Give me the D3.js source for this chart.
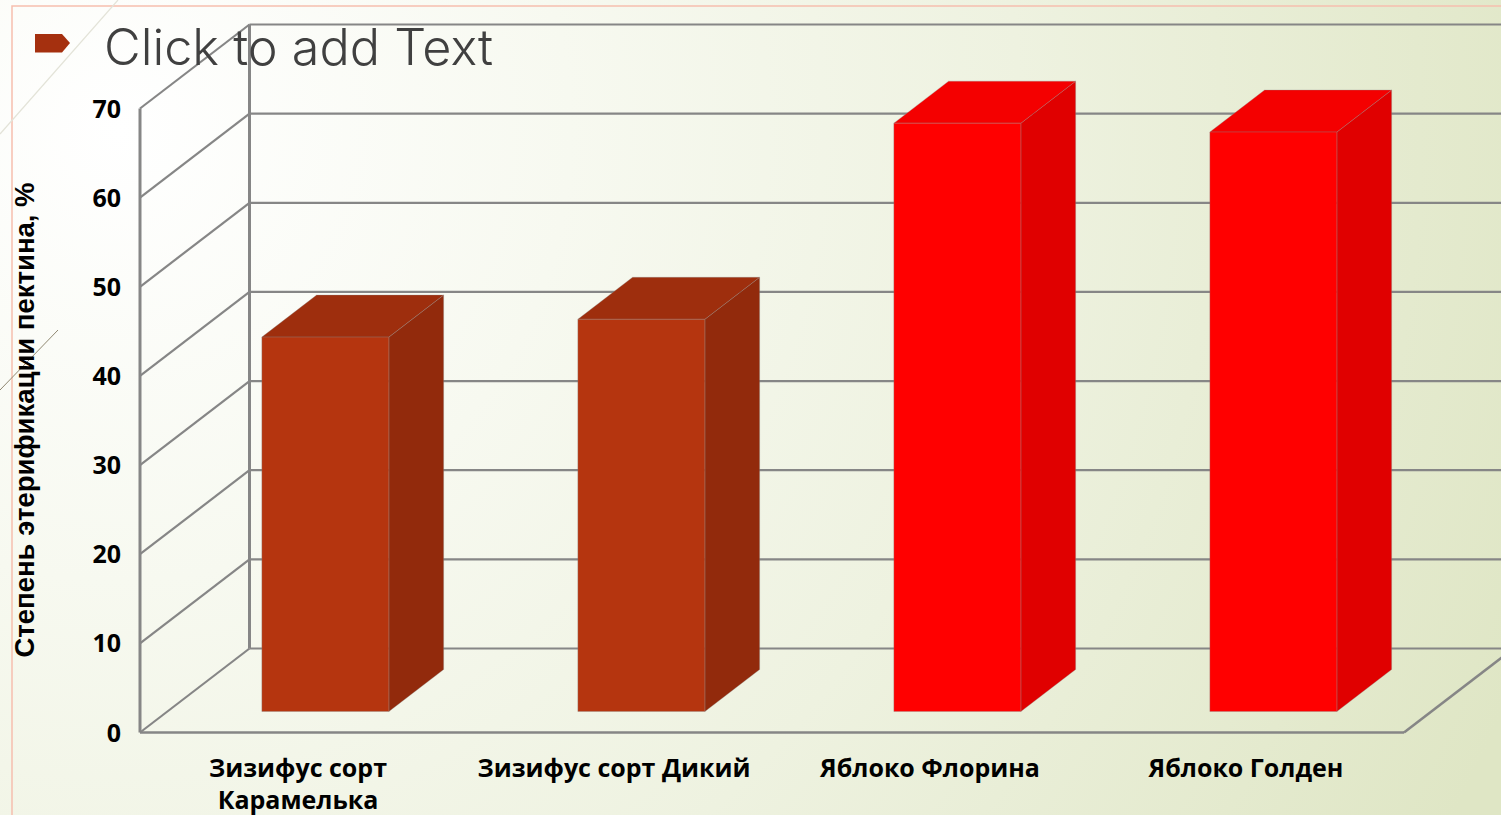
<!DOCTYPE html>
<html lang="ru">
<head>
<meta charset="utf-8">
<script src="https://cdnjs.cloudflare.com/ajax/libs/d3/7.9.0/d3.min.js"></script>
<style>
html,body{margin:0;padding:0;background:#fff;overflow:hidden}
svg{display:block}
</style>
</head>
<body>
<svg id="chart" width="1501" height="815"></svg>
<script>
const categories = ["Зизифус сорт Карамелька", "Зизифус сорт Дикий", "Яблоко Флорина", "Яблоко Голден"];
const values = [42, 44, 66, 65];
const frontColors = ["#b5350f", "#b5350f", "#ff0000", "#ff0000"];
const sideColors = ["#922a0c", "#922a0c", "#e00000", "#e00000"];
const topColors = ["#9e2e0d", "#9e2e0d", "#f40000", "#f40000"];
const yTicks = [0, 10, 20, 30, 40, 50, 60, 70];
const yTitle = "Степень этерификации пектина, %";
const placeholder = "Click to add Text";
const xLines = [["Зизифус сорт", "Карамелька"], ["Зизифус сорт Дикий"], ["Яблоко Флорина"], ["Яблоко Голден"]];

const W = 1501, H = 815;
const svg = d3.select("#chart");
const depth = {dx: 109.5, dy: -84};
const barDepth = 0.5, barOffset = 0.25;
const sans = '"Open Sans","Noto Sans",sans-serif';

const y = d3.scaleLinear().domain([0, 70]).range([732.5, 108.5]);
const x = d3.scaleBand().domain(categories).range([140, 1404]).paddingInner(0.598).paddingOuter(0.299);

// background
const defs = svg.append("defs");
const bg = defs.append("radialGradient").attr("id", "bg").attr("gradientUnits", "userSpaceOnUse")
  .attr("cx", 120).attr("cy", 130).attr("r", 1500);
[[0, "#ffffff"], [0.3, "#f7f9f0"], [0.6, "#eef2e0"], [1, "#dfe6c5"]]
  .forEach(([o, c]) => bg.append("stop").attr("offset", o).attr("stop-color", c));
svg.append("rect").attr("width", W).attr("height", H).attr("fill", "url(#bg)");

// slide decoration
const deco = svg.append("g").attr("fill", "none");
deco.append("path").attr("d", "M12 815V6H1501").attr("stroke", "#f6bfae").attr("stroke-width", 1.5);
deco.append("line").attr("x1", 118).attr("y1", 0).attr("x2", 0).attr("y2", 134).attr("stroke", "#e3e3d8").attr("stroke-width", 1.2);
deco.append("line").attr("x1", 58).attr("y1", 330).attr("x2", 0).attr("y2", 390).attr("stroke", "#8f8770").attr("stroke-width", 1);

svg.append("path").attr("d", "M35 34H62L70 43L62 52.5H35Z").attr("fill", "#a5300f");

// grid
const grid = svg.append("g").attr("fill", "none").attr("stroke", "#868686");
yTicks.forEach(t => {
  const yy = y(t);
  grid.append("line").attr("x1", x.range()[0]).attr("y1", yy)
    .attr("x2", x.range()[0] + depth.dx).attr("y2", yy + depth.dy).attr("stroke-width", 2.2);
  grid.append("line").attr("x1", x.range()[0] + depth.dx).attr("y1", yy + depth.dy)
    .attr("x2", x.range()[1] + depth.dx).attr("y2", yy + depth.dy).attr("stroke-width", 2.2);
});
grid.append("line").attr("x1", x.range()[0]).attr("y1", y(0)).attr("x2", x.range()[0]).attr("y2", y(70)).attr("stroke-width", 3);
grid.append("line").attr("x1", x.range()[0] + depth.dx).attr("y1", y(0) + depth.dy).attr("x2", x.range()[0] + depth.dx).attr("y2", y(70) + depth.dy).attr("stroke-width", 3);
grid.append("line").attr("x1", x.range()[0]).attr("y1", y(0)).attr("x2", x.range()[1]).attr("y2", y(0)).attr("stroke-width", 2.6);
grid.append("line").attr("x1", x.range()[1]).attr("y1", y(0)).attr("x2", x.range()[1] + depth.dx).attr("y2", y(0) + depth.dy).attr("stroke-width", 2.6);

// placeholder text over the plot
svg.append("text").attr("x", 104).attr("y", 65).style("font-family", '"Inter",sans-serif').attr("font-size", 50).attr("font-weight", 300)
  .attr("fill", "#404040").attr("textLength", 389).attr("lengthAdjust", "spacingAndGlyphs").text(placeholder);

// 3D bars
const bars = svg.append("g").selectAll("g").data(categories).join("g");
const ox = barOffset * depth.dx, oy = barOffset * depth.dy;
const bx = barDepth * depth.dx, by = barDepth * depth.dy;
function face(sel, pts, fill) {
  sel.append("path").attr("d", d3.line()(pts) + "Z").attr("fill", fill)
    .attr("stroke", "#8a8a8a").attr("stroke-width", 0.8).attr("stroke-opacity", 0.4).attr("stroke-linejoin", "round");
}
bars.each(function (c, i) {
  const g = d3.select(this);
  const l = x(c) + ox, r = l + x.bandwidth();
  const b = y(0) + oy, t = y(values[i]) + oy;
  face(g, [[r, b], [r + bx, b + by], [r + bx, t + by], [r, t]], sideColors[i]);
  face(g, [[l, t], [l + bx, t + by], [r + bx, t + by], [r, t]], topColors[i]);
  face(g, [[l, b], [l, t], [r, t], [r, b]], frontColors[i]);
});

// y axis labels
const axisY = svg.append("g").attr("transform", `translate(${x.range()[0]},0)`)
  .call(d3.axisLeft(y).tickValues(yTicks).tickSize(0).tickPadding(19));
axisY.select(".domain").remove();
axisY.selectAll("text").style("font-family", sans).attr("font-size", 25).attr("font-weight", 700).attr("fill", "#000").attr("dy", "0.34em");

// x labels
const labels = svg.append("g").selectAll("text").data(categories).join("text")
  .style("font-family", sans).attr("text-anchor", "middle").attr("font-size", 25).attr("font-weight", 700).attr("fill", "#000");
labels.each(function (c, i) {
  const cx = x(c) + x.bandwidth() / 2;
  xLines[i].forEach((s, k) => d3.select(this).append("tspan").attr("x", cx).attr("y", 777 + k * 32).text(s));
});

// y title
svg.append("text").attr("transform", "translate(34,420) rotate(-90)").attr("text-anchor", "middle")
  .style("font-family", '"Liberation Sans",Arial,sans-serif').attr("font-size", 27.5).attr("font-weight", 700).attr("fill", "#000").text(yTitle);
</script>
</body>
</html>
